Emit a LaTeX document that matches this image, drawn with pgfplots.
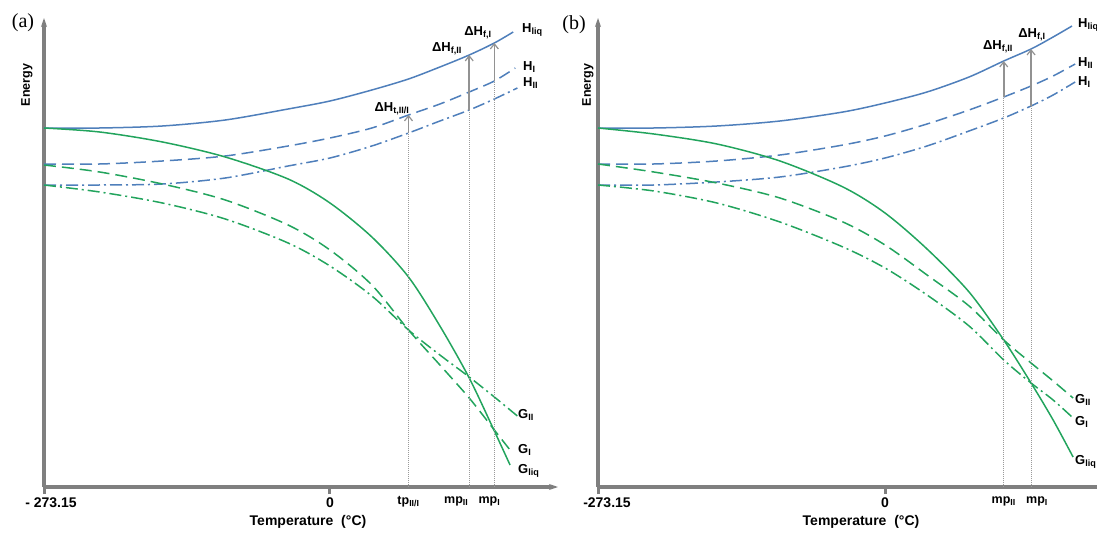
\documentclass[border=0pt]{standalone}
\usepackage{fontspec}
\setmainfont{Liberation Sans}
\newfontfamily\serifa{Liberation Serif}
\usepackage{pgfplots}
\pgfplotsset{compat=1.18}
\usetikzlibrary{arrows.meta}
\definecolor{hblue}{HTML}{4F7FBB}
\definecolor{ggreen}{HTML}{22A45D}
\definecolor{axgray}{HTML}{7F7F7F}
\definecolor{argray}{HTML}{929292}
\definecolor{dotgray}{HTML}{9A9A9A}
\tikzset{
 ldash/.style={dash pattern=on 12pt off 6pt},
 ldashdot/.style={dash pattern=on 12pt off 4pt on 2pt off 4pt},
 curve/.style={line width=1.5pt, smooth, tension=0.5},
 vdot/.style={dotgray, line width=0.8pt, dash pattern=on 0.8pt off 1.2pt},
 harrow/.style={argray, line width=1.6pt, -{Straight Barb[length=5pt,width=8pt,line width=1.2pt]}},
 clabel/.style={font=\bfseries\fontsize{13}{15}\selectfont, inner sep=0pt},
}
\pgfplotsset{
 panel/.style={
  scale only axis, height=469pt, ymin=0, ymax=469,
  axis lines=left,
  axis line style={axgray, line width=3.5pt, -{Stealth[length=9pt,width=6pt]}},
  xtick={-273.15,0}, ytick=\empty,
  tick align=outside, major tick length=7pt,
  tick style={axgray, line width=3pt},
  xticklabel style={font=\bfseries\fontsize{14}{16}\selectfont, text=black},
  extra x tick style={major tick length=0pt, xticklabel style={font=\bfseries\fontsize{12.5}{14}\selectfont, yshift=-6pt}},
  clip=false,
 }
}
\begin{document}
\begin{tikzpicture}
\useasboundingbox (0,0) rectangle (1097pt,533pt);
% ---------------- panel (a) ----------------
\begin{axis}[panel, at={(44pt,46pt)}, anchor=south west, width=514pt,
  xmin=-273.15, xmax=217.8,
  xticklabels={{- 273.15\hspace*{-14pt}}, 0},
  extra x ticks={75,133,157},
  extra x tick labels={tp\textsubscript{II/I}, \hspace*{-26pt}mp\textsubscript{II}, \hspace*{-10pt}mp\textsubscript{I}}]
% enthalpies
\addplot[hblue, curve] coordinates {(-273.15,359) (-220,359) (-160,361) (-100,367) (-40,378) (0,386) (40,397) (75,408) (105,420) (133,432) (157,444) (175,455)};
\addplot[hblue, curve, ldash] coordinates {(-273.15,323) (-220,323) (-160,326) (-100,331) (-40,341) (0,349) (40,359) (75,372) (105,383) (133,395) (157,406) (177,419)};
\addplot[hblue, curve, ldashdot] coordinates {(-273.15,302) (-220,302) (-160,303) (-100,309) (-40,321) (0,329) (40,341) (75,354) (105,366) (133,377) (157,388) (179,399)};
% Gibbs energies
\addplot[ggreen, curve] coordinates {(-273.15,359) (-220,355) (-160,345) (-100,330) (-40,308) (0,284) (40,250) (75,210) (105,161) (133,109) (157,56) (172,22)};
\addplot[ggreen, curve, ldash] coordinates {(-273.15,322) (-220,315) (-160,303) (-100,287) (-40,262) (0,237) (40,202) (75,157) (105,122) (133,89) (157,57) (172,37)};
\addplot[ggreen, curve, ldashdot] coordinates {(-273.15,302) (-220,295) (-160,284) (-100,268) (-40,244) (0,221) (40,191) (75,157) (105,132) (133,110) (157,90) (179,71)};
% transition / melting markers
\addplot[vdot] coordinates {(75,0) (75,354)};
\addplot[harrow] coordinates {(75,354) (75,372)};
\addplot[vdot] coordinates {(133,0) (133,377)};
\addplot[harrow] coordinates {(133,377) (133,432)};
\addplot[vdot] coordinates {(157,0) (157,406)};
\addplot[harrow] coordinates {(157,406) (157,444)};
\end{axis}
% ---------------- panel (b) ----------------
\begin{axis}[panel, at={(598pt,46pt)}, anchor=south west, width=517pt,
  xmin=-273.15, xmax=218.9,
  xticklabels={{-273.15\hspace*{-18pt}}, 0},
  extra x ticks={113,139},
  extra x tick labels={mp\textsubscript{II}, mp\textsubscript{I}\hspace*{-12pt}}]
\addplot[hblue, curve] coordinates {(-273.15,359) (-220,359) (-160,361) (-100,366) (-40,375) (0,384) (40,395) (80,410) (113,426) (139,438) (160,450) (178,461)};
\addplot[hblue, curve, ldash] coordinates {(-273.15,323) (-220,323) (-160,326) (-100,332) (-40,342) (0,351) (40,363) (80,377) (113,390) (139,401) (160,411) (181,423)};
\addplot[hblue, curve, ldashdot] coordinates {(-273.15,302) (-220,302) (-160,305) (-100,310) (-40,320) (0,329) (40,341) (80,356) (113,369) (139,381) (160,392) (181,405)};
\addplot[ggreen, curve] coordinates {(-273.15,359) (-220,353) (-160,343) (-100,326) (-40,300) (0,274) (40,238) (80,195) (113,147) (139,104) (160,67) (179,30)};
\addplot[ggreen, curve, ldash] coordinates {(-273.15,323) (-220,315) (-160,304) (-100,289) (-40,265) (0,242) (40,212) (80,181) (113,147) (139,124) (160,106) (179,89)};
\addplot[ggreen, curve, ldashdot] coordinates {(-273.15,302) (-220,296) (-160,284) (-100,265) (-40,240) (0,219) (40,192) (80,161) (113,127) (139,104) (160,87) (179,69)};
\addplot[vdot] coordinates {(113,0) (113,390)};
\addplot[harrow] coordinates {(113,390) (113,426)};
\addplot[vdot] coordinates {(139,0) (139,381)};
\addplot[harrow] coordinates {(139,381) (139,438)};
\end{axis}
% ---------------- texts ----------------
\node[font=\serifa\fontsize{20}{22}\selectfont] at (23pt,510pt) {(a)};
\node[font=\serifa\fontsize{20}{22}\selectfont] at (574pt,508pt) {(b)};
\node[rotate=90, font=\bfseries\fontsize{12.5}{14}\selectfont] at (27pt,448pt) {Energy};
\node[rotate=90, font=\bfseries\fontsize{12.5}{14}\selectfont] at (588pt,448pt) {Energy};
\node[font=\bfseries\fontsize{14}{16}\selectfont] at (308pt,11pt) {Temperature\ \ (°C)};
\node[font=\bfseries\fontsize{14}{16}\selectfont] at (861pt,11pt) {Temperature\ \ (°C)};
% labels (a)
\node[clabel, anchor=west] at (522pt,503pt) {H\textsubscript{liq}};
\node[clabel, anchor=west] at (523pt,466pt) {H\textsubscript{I}};
\node[clabel, anchor=west] at (523pt,450pt) {H\textsubscript{II}};
\node[clabel, anchor=west] at (518pt,118pt) {G\textsubscript{II}};
\node[clabel, anchor=west] at (518pt,83pt) {G\textsubscript{I}};
\node[clabel, anchor=west] at (518pt,62pt) {G\textsubscript{liq}};
\node[clabel] at (478pt,500pt) {ΔH\textsubscript{f,I}};
\node[clabel] at (447pt,484pt) {ΔH\textsubscript{f,II}};
\node[clabel] at (392pt,424pt) {ΔH\textsubscript{t,II/I}};
% labels (b)
\node[clabel, anchor=west] at (1078pt,508pt) {H\textsubscript{liq}};
\node[clabel, anchor=west] at (1078pt,470pt) {H\textsubscript{II}};
\node[clabel, anchor=west] at (1078pt,451pt) {H\textsubscript{I}};
\node[clabel, anchor=west] at (1075pt,133pt) {G\textsubscript{II}};
\node[clabel, anchor=west] at (1075pt,111pt) {G\textsubscript{I}};
\node[clabel, anchor=west] at (1075pt,71pt) {G\textsubscript{liq}};
\node[clabel] at (998pt,486pt) {ΔH\textsubscript{f,II}};
\node[clabel] at (1032pt,498pt) {ΔH\textsubscript{f,I}};
\end{tikzpicture}
\end{document}
